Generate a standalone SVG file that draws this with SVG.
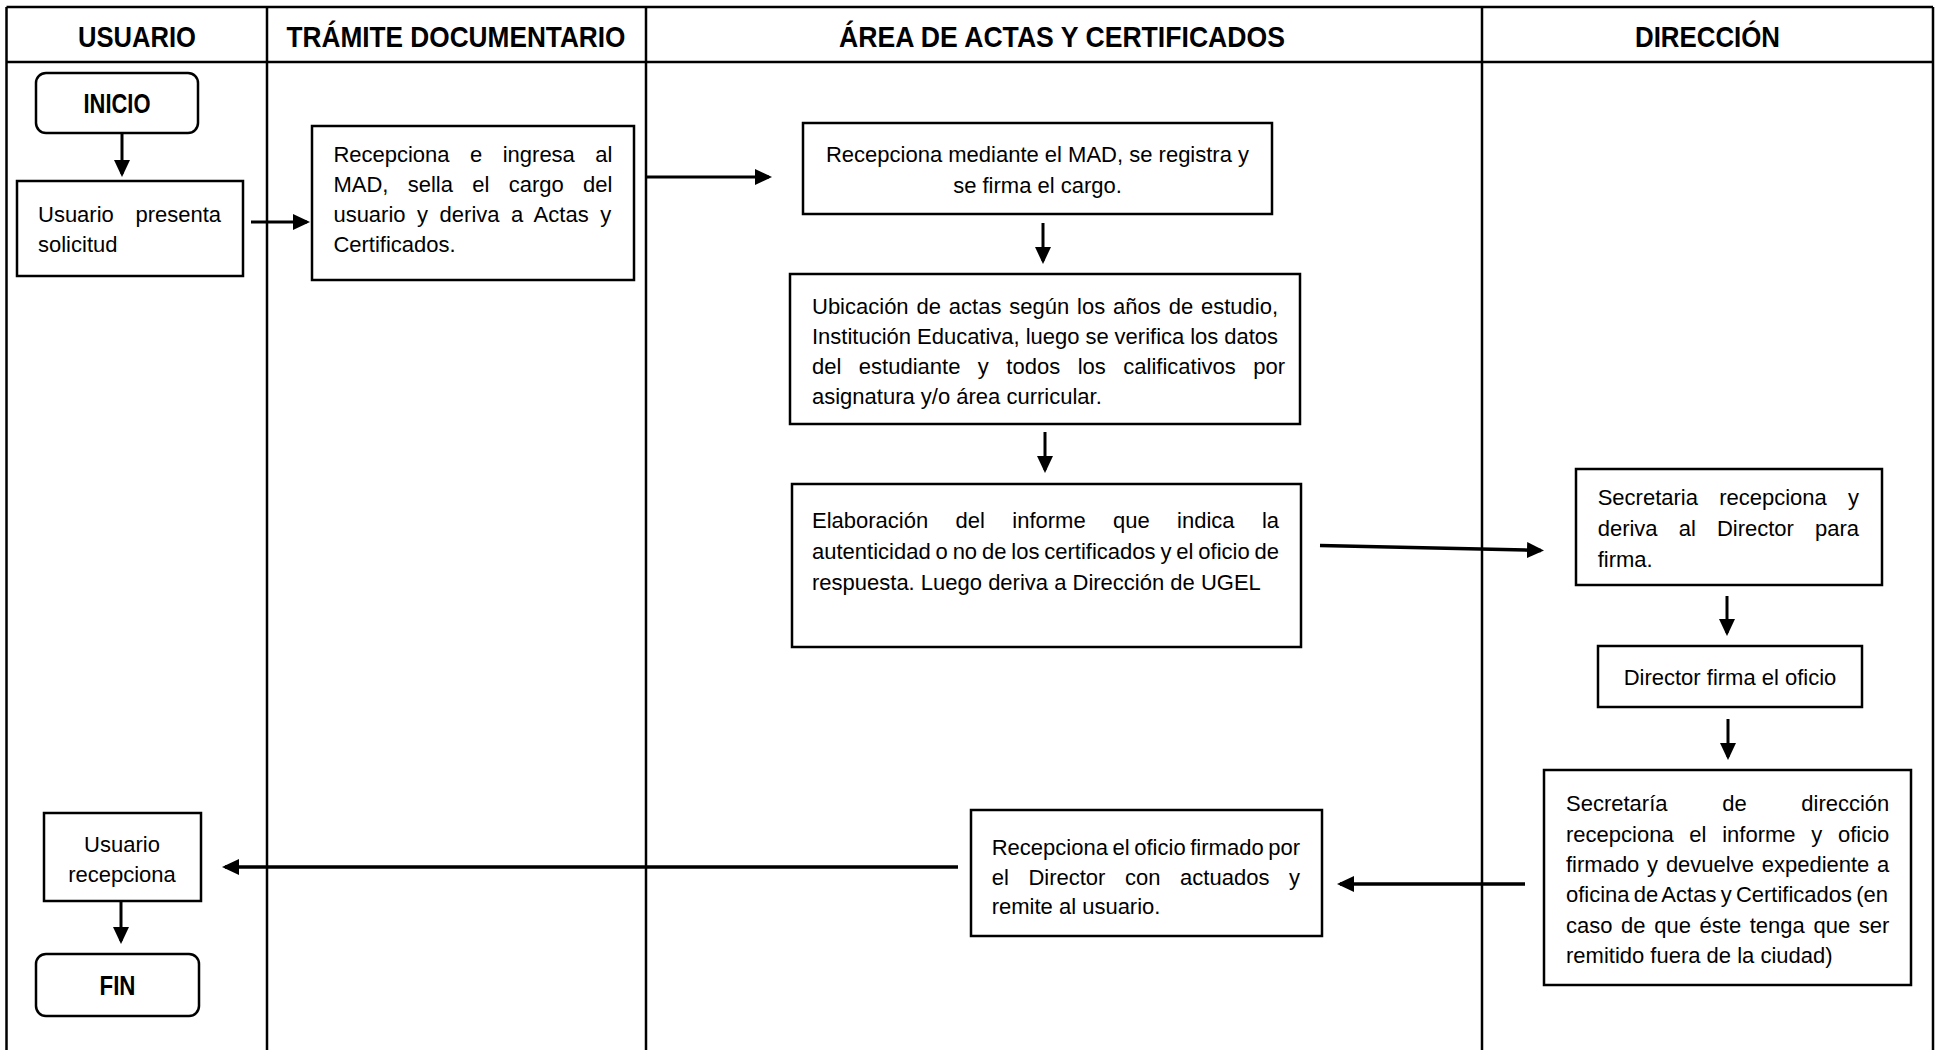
<svg xmlns="http://www.w3.org/2000/svg" width="1935" height="1050" viewBox="0 0 1935 1050">
<defs>
<style>
.grid{stroke:#000;stroke-width:2.5;fill:none}
.box{fill:#fff;stroke:#000;stroke-width:2.5}
.t{font-family:"Liberation Sans",Arial,sans-serif;font-size:22px;fill:#000}
.h{font-family:"Liberation Sans",Arial,sans-serif;font-size:30px;font-weight:bold;fill:#000;text-anchor:middle}
.b{font-family:"Liberation Sans",Arial,sans-serif;font-size:27px;font-weight:bold;fill:#000;text-anchor:middle}
.c{text-anchor:middle}
.conn{stroke:#000;stroke-width:3;fill:none;marker-end:url(#arr)}
.thick{stroke-width:3.5}
</style>
<marker id="arr" markerUnits="userSpaceOnUse" markerWidth="18" markerHeight="16" refX="14" refY="8" orient="auto"><path d="M0,0 L17,8 L0,16 z" fill="#000"/></marker>
</defs>
<rect width="1935" height="1050" fill="#fff"/>
<g id="lanes">
<path class="grid" d="M6.5,7 H1933 M6.5,62 H1933 M6.5,7 V1052 M267,7 V1052 M646,7 V1052 M1482,7 V1052 M1933,7 V1052"/>
<text class="h" x="137" y="46.5" textLength="118" lengthAdjust="spacingAndGlyphs">USUARIO</text>
<text class="h" x="456" y="46.5" textLength="339" lengthAdjust="spacingAndGlyphs">TRÁMITE DOCUMENTARIO</text>
<text class="h" x="1062" y="46.5" textLength="446" lengthAdjust="spacingAndGlyphs">ÁREA DE ACTAS Y CERTIFICADOS</text>
<text class="h" x="1707.5" y="46.5" textLength="145" lengthAdjust="spacingAndGlyphs">DIRECCIÓN</text>
</g>
<g id="connectors">
<path class="conn" d="M122,133 V174"/>
<path class="conn" d="M251,222 H307"/>
<path class="conn" d="M646,177 H769"/>
<path class="conn" d="M1043,223 V261"/>
<path class="conn" d="M1045,432 V470"/>
<path class="conn thick" d="M1320,545.5 L1541,550.4"/>
<path class="conn" d="M1727,596 V633"/>
<path class="conn" d="M1728,719 V757"/>
<path class="conn thick" d="M1525,884 H1340"/>
<path class="conn thick" d="M958,867 H225"/>
<path class="conn" d="M121,901 V941"/>
</g>
<g id="n-inicio">
<rect class="box" x="36" y="73" width="162" height="60" rx="10"/>
<text class="b" x="117" y="113" textLength="67" lengthAdjust="spacingAndGlyphs">INICIO</text>
</g>
<g id="n-solicitud">
<rect class="box" x="17" y="181" width="226" height="95"/>
<text class="t" x="38" y="222" word-spacing="15.5">Usuario presenta</text>
<text class="t" x="38" y="252">solicitud</text>
</g>
<g id="n-tramite">
<rect class="box" x="312" y="126" width="322" height="154"/>
<text class="t" x="333.4" y="162" word-spacing="14.33">Recepciona e ingresa al</text>
<text class="t" x="333.4" y="192" word-spacing="13.2">MAD, sella el cargo del</text>
<text class="t" x="333.4" y="222" word-spacing="5.42">usuario y deriva a Actas y</text>
<text class="t" x="333.4" y="252">Certificados.</text>
</g>
<g id="n-recepciona-mad">
<rect class="box" x="803" y="123" width="469" height="91"/>
<text class="t c" x="1037.5" y="162">Recepciona mediante el MAD, se registra y</text>
<text class="t c" x="1037.5" y="193">se firma el cargo.</text>
</g>
<g id="n-ubicacion">
<rect class="box" x="790" y="274" width="510" height="150"/>
<text class="t" x="812" y="314" word-spacing="1.76">Ubicación de actas según los años de estudio,</text>
<text class="t" x="812" y="344" word-spacing="-0.18">Institución Educativa, luego se verifica los datos</text>
<text class="t" x="812" y="374" word-spacing="11.38">del estudiante y todos los calificativos por</text>
<text class="t" x="812" y="404">asignatura y/o área curricular.</text>
</g>
<g id="n-elaboracion">
<rect class="box" x="792" y="484" width="509" height="163"/>
<text class="t" x="812" y="528" word-spacing="21.26">Elaboración del informe que indica la</text>
<text class="t" x="812" y="559" word-spacing="-1.24">autenticidad o no de los certificados y el oficio de</text>
<text class="t" x="812" y="590">respuesta. Luego deriva a Dirección de UGEL</text>
</g>
<g id="n-secretaria">
<rect class="box" x="1576" y="469" width="306" height="116"/>
<text class="t" x="1597.7" y="505" word-spacing="15.11">Secretaria recepciona y</text>
<text class="t" x="1597.7" y="536" word-spacing="14.97">deriva al Director para</text>
<text class="t" x="1597.7" y="567">firma.</text>
</g>
<g id="n-director">
<rect class="box" x="1598" y="646" width="264" height="61"/>
<text class="t c" x="1730" y="685">Director firma el oficio</text>
</g>
<g id="n-secretaria-direccion">
<rect class="box" x="1544" y="770" width="367" height="215"/>
<text class="t" x="1566" y="811" word-spacing="48.55">Secretaría de dirección</text>
<text class="t" x="1566" y="841.5" word-spacing="9.6">recepciona el informe y oficio</text>
<text class="t" x="1566" y="872" word-spacing="1.65">firmado y devuelve expediente a</text>
<text class="t" x="1566" y="902" word-spacing="-1.86">oficina de Actas y Certificados (en</text>
<text class="t" x="1566" y="932.5" word-spacing="2.52">caso de que éste tenga que ser</text>
<text class="t" x="1566" y="962.5">remitido fuera de la ciudad)</text>
</g>
<g id="n-recepciona-oficio">
<rect class="box" x="971" y="810" width="351" height="126"/>
<text class="t" x="991.7" y="855" word-spacing="-1.48">Recepciona el oficio firmado por</text>
<text class="t" x="991.7" y="885" word-spacing="13.49">el Director con actuados y</text>
<text class="t" x="991.7" y="914">remite al usuario.</text>
</g>
<g id="n-usuario-recepciona">
<rect class="box" x="44" y="813" width="157" height="88"/>
<text class="t c" x="122" y="852">Usuario</text>
<text class="t c" x="122" y="882">recepciona</text>
</g>
<g id="n-fin">
<rect class="box" x="36" y="954" width="163" height="62" rx="10"/>
<text class="b" x="117.5" y="995" textLength="36" lengthAdjust="spacingAndGlyphs">FIN</text>
</g>
</svg>
